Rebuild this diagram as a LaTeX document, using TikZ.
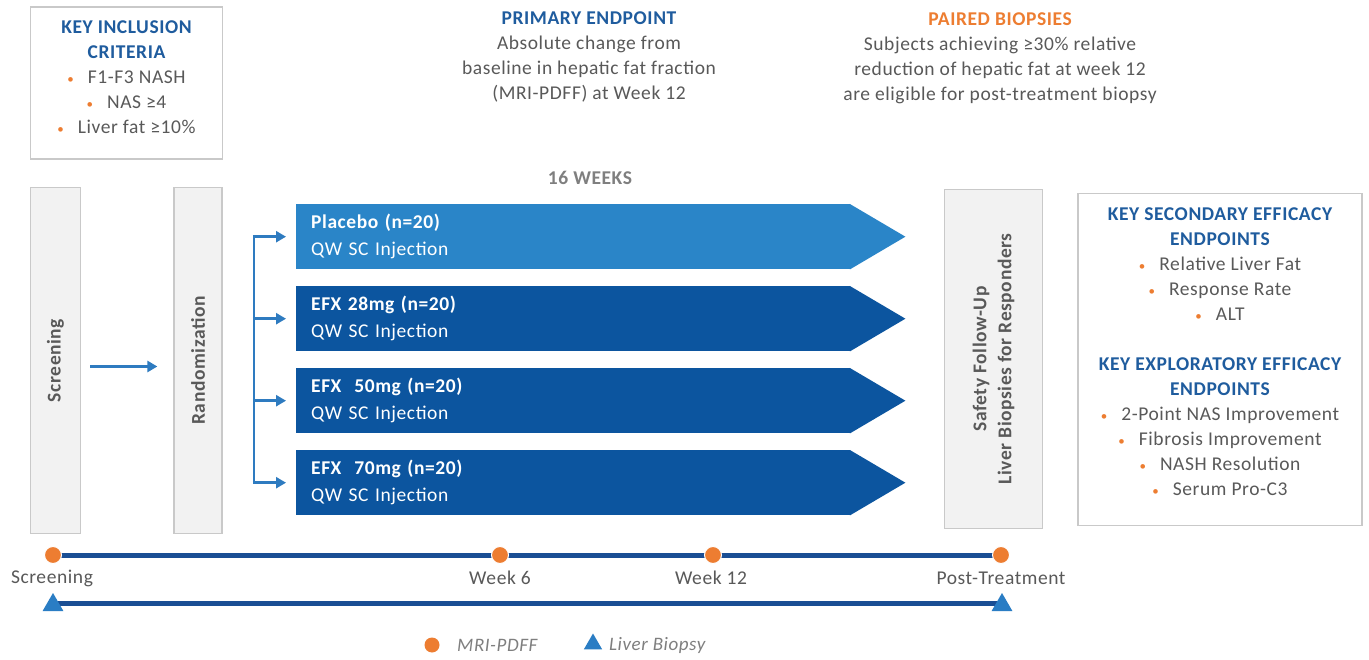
\documentclass[tikz,border=0pt]{standalone}
\usepackage{fontspec}
\setmainfont{Carlito}[LetterSpace=3]
\usetikzlibrary{arrows.meta,shapes.geometric}
\definecolor{ttl}{HTML}{1F5C9E}
\definecolor{orng}{HTML}{ED7D31}
\definecolor{txt}{HTML}{595959}
\definecolor{lgtxt}{HTML}{7F7F7F}
\definecolor{bord}{HTML}{C9C9C9}
\definecolor{boxfill}{HTML}{F2F2F2}
\definecolor{arrblue}{HTML}{2E7BC0}
\definecolor{plac}{HTML}{2A85C8}
\definecolor{dblue}{HTML}{0C559F}
\definecolor{tline}{HTML}{1A4E94}
\definecolor{tricol}{HTML}{2A7DC4}
\newcommand{\bul}{\textcolor{orng}{\fontsize{13}{13}\selectfont •}\hspace{14pt}}
\begin{document}
\begin{tikzpicture}[x=1pt,y=-1pt,
  every node/.style={font=\fontsize{19.5}{25}\selectfont, text=txt, inner sep=0pt},
  infobox/.style={draw=bord, line width=1.2pt, fill=white},
  graybox/.style={draw=bord, line width=1.2pt, fill=boxfill},
  vlabel/.style={rotate=90, font=\fontsize{19.5}{25}\selectfont\bfseries, align=center},
  armbody/.style={minimum height=65pt, minimum width=554pt, anchor=north west, text width=524pt, align=left, inner xsep=15pt, text=white, font=\fontsize{19.5}{27}\selectfont},
  flow/.style={draw=arrblue, line width=2.5pt, -{Triangle[length=10pt,width=11pt]}},
  tdot/.style={circle, fill=orng, draw=white, line width=1pt, minimum size=17pt},
  tmark/.style={regular polygon, regular polygon sides=3, fill=tricol, minimum size=24pt},
  tl/.style={draw=tline, line width=5pt},
  lgtext/.style={anchor=west, text=lgtxt, font=\fontsize{19}{22}\selectfont\itshape},
]
\useasboundingbox[fill=white] (0,0) rectangle (1369,660);

% top info
\node[infobox, minimum width=192pt, minimum height=152pt] (incbox) at (126.5,83) {};
\node[align=center] (inctext) at (126.5,77.5) {\textcolor{ttl}{\bfseries KEY INCLUSION}\\\textcolor{ttl}{\bfseries CRITERIA}\\\bul F1-F3 NASH\\\bul NAS ≥4\\\bul Liver fat ≥10\%};

\node[align=center] (prim) at (589,57) {\textcolor{ttl}{\bfseries PRIMARY ENDPOINT}\\Absolute change from\\baseline in hepatic fat fraction\\(MRI-PDFF) at Week 12};
\node[align=center] (pair) at (1000,58) {\textcolor{orng}{\bfseries PAIRED BIOPSIES}\\Subjects achieving ≥30\% relative\\reduction of hepatic fat at week 12\\are eligible for post-treatment biopsy};

\node[font=\fontsize{19.5}{25}\selectfont\bfseries, text=lgtxt] (weeks) at (590,178) {16 WEEKS};

% left boxes
\node[graybox, minimum width=50pt, minimum height=346pt] (scr) at (55.5,360.5) {};
\node[vlabel] at (scr.center) {Screening};
\node[graybox, minimum width=48pt, minimum height=346pt] (rnd) at (198,360.5) {};
\node[vlabel] at (rnd.center) {Randomization};
\draw[flow] ([shift={(9pt,-6pt)}]scr.east) -- ([shift={(-16pt,-6pt)}]rnd.west);

% arms
\node[armbody, fill=plac] (a1) at (296,204) {\textbf{Placebo (n=20)}\\QW SC Injection};
\node[armbody, fill=dblue] (a2) at (296,286) {\textbf{EFX 28mg (n=20)}\\QW SC Injection};
\node[armbody, fill=dblue] (a3) at (296,368) {\textbf{EFX\ \ 50mg (n=20)}\\QW SC Injection};
\node[armbody, fill=dblue] (a4) at (296,450) {\textbf{EFX\ \ 70mg (n=20)}\\QW SC Injection};
\fill[plac] ([xshift=-0.5pt]a1.north east) -- ([xshift=55pt]a1.east) -- ([xshift=-0.5pt]a1.south east) -- cycle;
\foreach \a in {a2,a3,a4}
  \fill[dblue] ([xshift=-0.5pt]\a.north east) -- ([xshift=55pt]\a.east) -- ([xshift=-0.5pt]\a.south east) -- cycle;

\coordinate (br) at (254,0);
\draw[draw=arrblue, line width=2.5pt] (br |- a1.west) -- (br |- a4.west);
\foreach \a in {a1,a2,a3,a4}
  \draw[flow, shorten >=10pt] ([xshift=-1.25pt]br |- \a.west) -- (\a.west);

% right boxes
\node[graybox, minimum width=98pt, minimum height=339pt] (safe) at (993.5,359) {};
\node[vlabel] at (safe.center) {Safety Follow-Up\\Liver Biopsies for Responders};
\node[infobox, minimum width=284pt, minimum height=332pt] (sec) at (1220,359.5) {};
\node[align=center] (sectext) at (1220,351.5) {\textcolor{ttl}{\bfseries KEY SECONDARY EFFICACY}\\\textcolor{ttl}{\bfseries ENDPOINTS}\\\bul Relative Liver Fat\\\bul Response Rate\\\bul ALT\\[25pt]\textcolor{ttl}{\bfseries KEY EXPLORATORY EFFICACY}\\\textcolor{ttl}{\bfseries ENDPOINTS}\\\bul 2-Point NAS Improvement\\\bul Fibrosis Improvement\\\bul NASH Resolution\\\bul Serum Pro-C3};

% timeline
\coordinate (c0) at (53,555);
\coordinate (c1) at (500,555);
\coordinate (c2) at (713,555);
\coordinate (c3) at (1001,555);
\draw[tl] (c0) -- (c3);
\foreach \c in {c0,c1,c2,c3} \node[tdot] at (\c) {};
\node (l0) at (52,578) {Screening};
\node (l1) at (500,578) {Week 6};
\node (l2) at (711,578) {Week 12};
\node (l3) at (1001,578) {Post-Treatment};

\coordinate (d0) at (53,603);
\coordinate (d1) at (1002,603);
\draw[tl] (d0) -- (d1);
\node[tmark] at ([yshift=-2pt]d0) {};
\node[tmark] at ([yshift=-2pt]d1) {};

% legend
\node[tdot, draw=none, minimum size=15pt] (lg1) at (432,645) {};
\node[lgtext] (lg1t) at (457,645) {MRI-PDFF};
\node[tmark, minimum size=21pt] (lg2) at (593,644) {};
\node[lgtext] (lg2t) at (609,645) {Liver Biopsy};
\end{tikzpicture}
\end{document}
